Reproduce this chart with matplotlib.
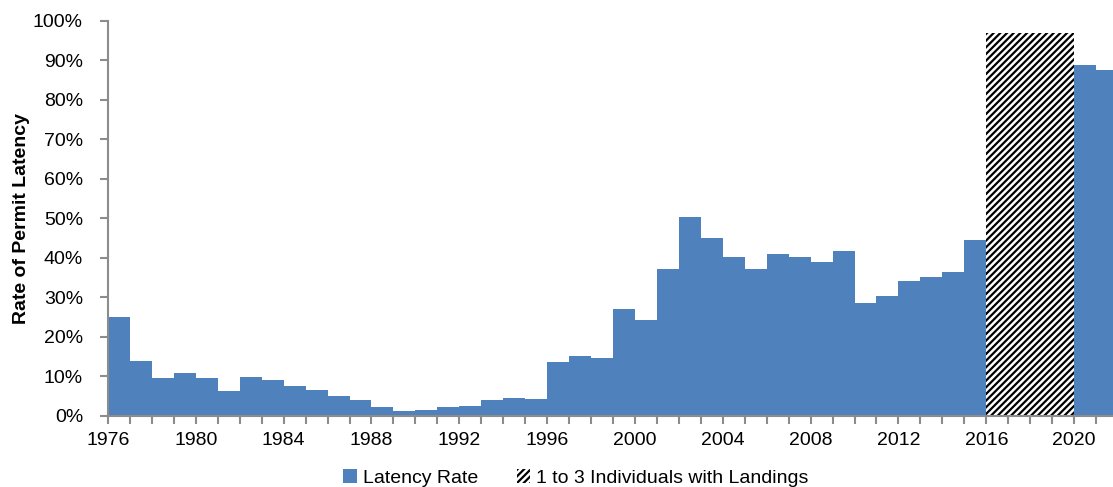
import numpy as np
import matplotlib
matplotlib.use("Agg")
import matplotlib.pyplot as plt
from matplotlib.patches import Patch

plt.rcParams['font.family'] = ['Liberation Sans', 'DejaVu Sans']
plt.rcParams['hatch.linewidth'] = 1.6

# latency rate (%) by year
years = list(range(1976, 2016)) + [2020, 2021]
latency = [24.9, 13.9, 9.5, 10.9, 9.5, 6.2, 9.8, 9.1, 7.4, 6.4,
           5.1, 4.0, 2.1, 1.1, 1.5, 2.2, 2.5, 4.1, 4.6, 4.2,
           13.7, 15.1, 14.6, 26.9, 24.3, 37.1, 50.2, 44.9, 40.2, 37.2,
           40.9, 40.2, 38.8, 41.6, 28.5, 30.4, 34.2, 35.2, 36.5, 44.5,
           88.8, 87.5]

# years with 1 to 3 individuals with landings (confidential block)
conf_years = [2016, 2017, 2018, 2019]
conf_height = [97.0, 97.0, 97.0, 97.0]

tick_years = list(range(1976, 2022, 4))
blue = '#4F81BD'
gray = '#8C8C8C'

fig = plt.figure(figsize=(11.13, 4.87), dpi=100)
ax = fig.add_axes([108/1113, 1 - 415.7/487, (1118 - 108)/1113, (415.7 - 20.7)/487])

ax.bar(years, latency, width=1.0, align='edge', color=blue, linewidth=0)
ax.bar(conf_years, conf_height, width=1.0, align='edge', facecolor='white',
       edgecolor='black', linewidth=0, hatch='/////')

ax.set_xlim(1976, 2022)
ax.set_ylim(0, 100)
ax.set_yticks(np.arange(0, 101, 10))
ax.set_yticklabels([f"{v}%" for v in range(0, 101, 10)])
ax.set_xticks(range(1976, 2022), minor=True)
ax.set_xticks(tick_years)
ax.set_xticklabels([str(y) for y in tick_years])

for s in ['top', 'right']:
    ax.spines[s].set_visible(False)
for s in ['left', 'bottom']:
    ax.spines[s].set_color(gray)
    ax.spines[s].set_linewidth(1.5)

ax.tick_params(axis='both', which='both', direction='out', color=gray, width=1.5,
               length=6, labelsize=14)
ax.tick_params(axis='x', which='major', pad=6)
ax.tick_params(axis='y', pad=12)

ax.set_ylabel("Rate of Permit Latency", fontsize=14, fontweight='bold', labelpad=2)

handles = [Patch(facecolor=blue, edgecolor='none', label='Latency Rate'),
           Patch(facecolor='white', edgecolor='black', linewidth=0, hatch='/////',
                 label='1 to 3 Individuals with Landings')]
fig.legend(handles=handles, loc='lower center', bbox_to_anchor=(0.5175, -0.036), ncol=2,
           frameon=False, fontsize=14, handlelength=0.7, handleheight=0.7,
           handletextpad=0.3, columnspacing=2.0)

plt.savefig("out.png", dpi=100)
